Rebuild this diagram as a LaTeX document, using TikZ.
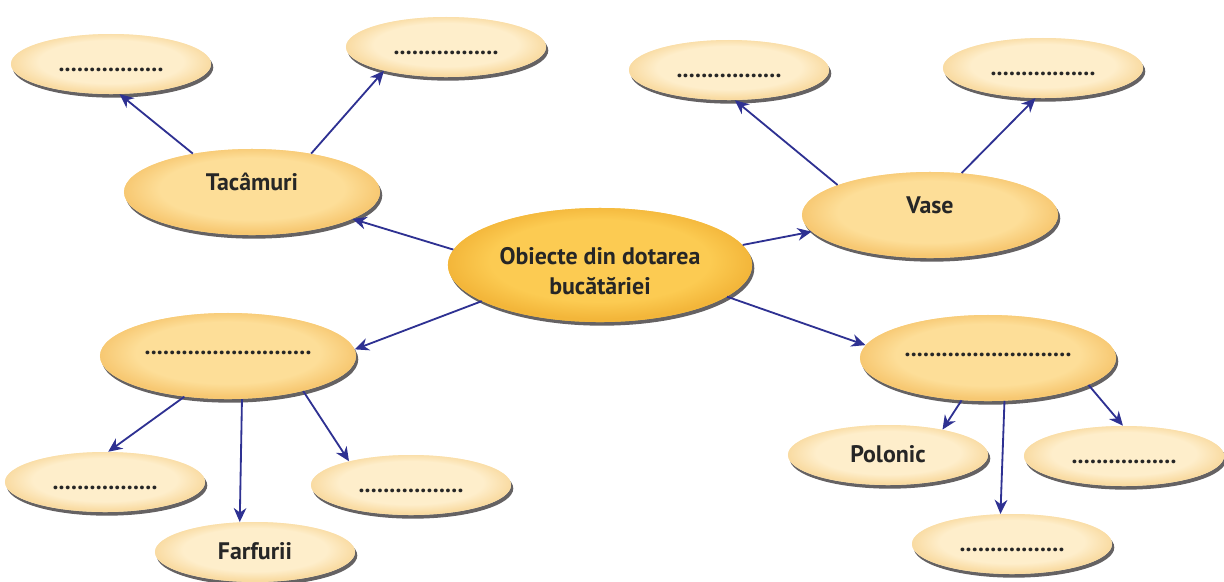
\documentclass[tikz,border=0pt]{standalone}
\usepackage{fontspec}
\setmainfont{PT Sans}
\usetikzlibrary{shapes.geometric, arrows.meta, calc, backgrounds}

\definecolor{mapblue}{HTML}{2E3192}
\definecolor{hubfill}{HTML}{FCCB52}
\definecolor{hubrim}{HTML}{F3B63A}
\definecolor{midfill}{HTML}{FDDE98}
\definecolor{midrim}{HTML}{F7C872}
\definecolor{leaffill}{HTML}{FEEECB}
\definecolor{leafrim}{HTML}{F9DBA2}
\definecolor{shadowgrey}{HTML}{4A4748}

% flat middle, a little darker towards the rim
\pgfdeclareradialshading{hubshade}{\pgfpoint{0bp}{3bp}}{color(0bp)=(hubfill); color(18bp)=(hubfill); color(25bp)=(hubrim); color(50bp)=(hubrim)}
\pgfdeclareradialshading{midshade}{\pgfpoint{0bp}{3bp}}{color(0bp)=(midfill); color(18bp)=(midfill); color(25bp)=(midrim); color(50bp)=(midrim)}
\pgfdeclareradialshading{leafshade}{\pgfpoint{0bp}{3bp}}{color(0bp)=(leaffill); color(18bp)=(leaffill); color(25bp)=(leafrim); color(50bp)=(leafrim)}

\newcommand{\shortgap}{.................}
\newcommand{\longgap}{...........................}

\begin{document}
\begin{tikzpicture}[x=0.025cm, y=-0.025cm,
    bubble/.style={ellipse, inner sep=0pt, text=black!85,
      font=\fontsize{17}{21.5}\selectfont\bfseries,
      text height=10pt, text depth=0pt},
    hub/.style={bubble, fill=hubfill, postaction={shading=hubshade},
      minimum width=7.6cm, minimum height=2.85cm, align=center, text height=42pt},
    topic/.style={bubble, fill=midfill, postaction={shading=midshade},
      minimum width=6.4cm, minimum height=2.15cm, text height=0pt, text depth=2pt},
    leaf/.style={bubble, fill=leaffill, postaction={shading=leafshade},
      minimum width=5cm, minimum height=1.5cm},
    arr/.style={draw=mapblue, line width=1.3pt, -{Stealth[length=10pt, width=9pt]}}]
  \useasboundingbox (0,0) rectangle (1224,581);

  % centre
  \node[hub] (hub) at (600,265) {Obiecte din dotarea\\bucătăriei};

  % first ring
  \node[topic] (tacamuri) at (252,192) {Tacâmuri};
  \node[topic] (vase)     at (930,215) {Vase};
  \node[topic] (left)     at (228,356) {\longgap};
  \node[topic] (right)    at (988,358) {\longgap};

  % outer ring
  \node[leaf] (tl)     at (111,64)  {\shortgap};
  \node[leaf] (tc)     at (446,47)  {\shortgap};
  \node[leaf] (tr1)    at (729,70)  {\shortgap};
  \node[leaf] (tr2)    at (1043,68) {\shortgap};
  \node[leaf] (bl1)    at (105,482) {\shortgap};
  \node[leaf] (plates) at (255,552) {Farfurii};
  \node[leaf] (bl2)    at (411,485) {\shortgap};
  \node[leaf] (ladle)  at (888,455) {Polonic};
  \node[leaf] (br1)    at (1012,544) {\shortgap};
  \node[leaf] (br2)    at (1124,456) {\shortgap};

  % grey shadows under every bubble
  \begin{pgfonlayer}{background}
    \foreach \bub in {hub,tacamuri,vase,left,right,tl,tc,tr1,tr2,bl1,plates,bl2,ladle,br1,br2}
      \fill[shadowgrey, opacity=0.85] let \p1=(\bub.center), \p2=(\bub.east), \p3=(\bub.north) in
        ([shift={(1.4pt,-2.4pt)}]\bub.center) ellipse [x radius=\x2-\x1, y radius=\y3-\y1];
  \end{pgfonlayer}

  % arrows, from border angle to border angle
  \foreach \s/\a/\t/\b in {hub/174/tacamuri/-15, hub/8/vase/-172,
      hub/-163/left/3, hub/-14/right/174,
      tacamuri/147/tl/-74, tacamuri/33/tc/-159,
      vase/162/tr1/-79, vase/53/tr2/-104,
      left/-137/bl1/84, left/-72/plates/117, left/-25/bl2/159,
      right/-122/ladle/25, right/-69/br1/111, right/-15/br2/92}
    \draw[arr] (\s.\a) -- (\t.\b);
\end{tikzpicture}
\end{document}
